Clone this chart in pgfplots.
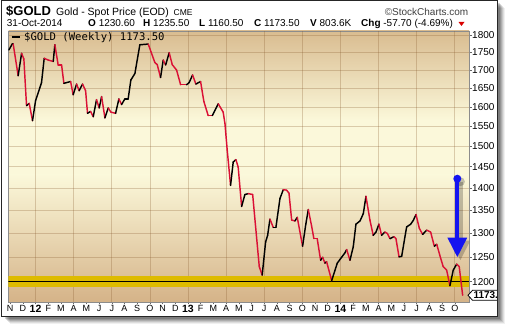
\documentclass[border=0pt]{standalone}
\usepackage{fontspec}
\setmainfont{Liberation Sans}
\newfontfamily\monofont{DejaVu Sans Mono}
\usepackage{pgfplots}
\pgfplotsset{compat=1.18}
\usepackage{pgfplotstable}
\definecolor{bgtop}{HTML}{D9BC90}
\definecolor{bgmid}{HTML}{FBF8DA}
\definecolor{bgbot}{HTML}{D5B388}
\definecolor{band}{HTML}{DEBB00}
\definecolor{linered}{HTML}{DA1035}
\definecolor{arrowblue}{HTML}{1414F0}
\pgfplotstableread{
m p u
-2.10 1757 1
-1.84 1774 1
-1.76 1774 0
-1.37 1684 1
-1.10 1747 0
-0.92 1731 0
-0.71 1603 1
-0.50 1609 0
-0.24 1564 1
0.00 1616 1
0.47 1665 1
0.68 1733 0
0.99 1728 0
1.39 1724 1
1.52 1772 0
1.78 1714 0
2.05 1714 0
2.23 1663 1
2.76 1668 0
2.96 1632 1
3.23 1661 0
3.43 1643 1
3.70 1661 0
3.94 1643 0
4.09 1583 1
4.33 1588 0
4.54 1574 1
4.80 1619 0
5.01 1597 1
5.20 1627 0
5.46 1571 1
5.72 1597 0
5.93 1586 0
6.30 1583 1
6.56 1621 0
6.77 1606 1
7.03 1621 1
7.29 1621 1
7.50 1672 1
7.82 1690 1
8.21 1772 1
8.87 1774 0
9.39 1721 0
9.58 1715 0
9.84 1679 1
10.05 1728 0
10.24 1714 1
10.52 1749 0
10.76 1715 0
11.10 1700 0
11.42 1659 0
11.89 1659 1
12.09 1665 1
12.36 1686 0
12.62 1661 1
12.99 1668 0
13.25 1614 0
13.59 1577 0
13.91 1577 1
14.38 1608 0
14.77 1586 0
14.91 1556 0
15.09 1489 0
15.35 1406 1
15.56 1461 1
15.77 1467 0
15.95 1449 0
16.22 1358 1
16.48 1385 1
16.74 1387 0
17.09 1385 0
17.61 1230 0
17.84 1213 1
18.11 1281 1
18.27 1295 1
18.45 1330 0
18.71 1312 1
18.92 1312 1
19.24 1376 1
19.50 1396 0
19.76 1395 0
19.95 1388 0
20.16 1328 0
20.42 1326 1
20.60 1334 0
21.02 1272 1
21.28 1320 1
21.47 1351 0
21.73 1315 0
21.91 1288 0
22.17 1288 0
22.44 1243 1
22.60 1249 0
22.78 1237 1
22.91 1240 0
23.31 1202 1
23.75 1237 1
24.09 1249 1
24.35 1258 1
24.49 1265 0
24.75 1243 1
25.01 1271 1
25.22 1319 1
25.54 1326 1
25.80 1342 1
26.01 1381 0
26.32 1328 0
26.58 1295 1
26.80 1302 1
27.03 1319 0
27.24 1295 1
27.50 1302 0
27.69 1299 0
27.90 1288 1
28.21 1292 0
28.37 1288 0
28.61 1250 1
28.82 1251 1
29.21 1313 1
29.53 1319 1
29.73 1327 1
29.95 1340 0
30.21 1310 0
30.47 1297 1
30.79 1306 0
31.10 1302 0
31.39 1272 1
31.58 1276 0
31.89 1247 0
32.09 1230 0
32.36 1223 0
32.62 1192 1
32.88 1223 1
33.15 1235 0
33.35 1230 0
33.62 1173.5 0
}\golddata

\begin{document}
\begin{tikzpicture}[x=1pt,y=1pt]
\useasboundingbox (0,0) rectangle (512,331);
\fill[white] (0,0) rectangle (512,331);
% drop shadow
\foreach \o/\a in {8/0.06,7/0.08,6/0.1,5/0.12,4/0.14,3/0.16}{
  \fill[black,opacity=\a] (1.5+\o,14.5-\o) rectangle (497+\o,330.5-\o);
}
\fill[white] (1.5,14.5) rectangle (497,330.5);
% plot-area background gradient
\fill[top color=bgtop, bottom color=bgmid] (8.5,210.5) rectangle (469,300);
\fill[bgmid] (8.5,155.5) rectangle (469,211);
\fill[top color=bgmid, bottom color=bgbot] (8.5,29) rectangle (469,156);

\begin{axis}[
  at={(8.5pt,29pt)}, anchor=south west,
  scale only axis, width=460.5pt, height=271pt,
  xmin=-2.13, xmax=34.12,
  ymode=log, ymin=1160.6, ymax=1812.7,
  axis line style={draw=black!45, line width=0.5pt},
  xtick={-2,-1,...,33},
  xticklabels={N,D,\textbf{\fontsize{10.5}{10.5}\selectfont 12},F,M,A,M,J,J,A,S,O,N,D,\textbf{\fontsize{10.5}{10.5}\selectfont 13},F,M,A,M,J,J,A,S,O,N,D,\textbf{\fontsize{10.5}{10.5}\selectfont 14},F,M,A,M,J,J,A,S,O},
  extra x ticks={0,3,...,33},
  extra x tick labels={},
  extra x tick style={grid=major, tick style={draw=none}},
  xtick pos=left,
  ytick={1200,1250,1300,1350,1400,1450,1500,1550,1600,1650,1700,1750,1800},
  yticklabels={1200,1250,1300,1350,1400,1450,1500,1550,1600,1650,1700,1750,1800},
  yminorticks=false,
  ytick pos=right, yticklabel pos=right,
  ymajorgrids=true,
  grid style={draw=brown!70!black, opacity=0.28, line width=0.6pt},
  tick align=outside, major tick length=2.5pt,
  tick style={draw=black!60, line width=0.5pt},
  xticklabel style={font=\fontsize{9}{9}\selectfont, anchor=north, inner sep=0pt, yshift=-1pt},
  yticklabel style={font=\fontsize{10}{10}\selectfont, anchor=west, inner sep=0pt, xshift=0.5pt},
  colormap={updown}{color=(linered) color=(black)},
  point meta min=0, point meta max=1,
]
\fill[band] (axis cs:-2.13,1189) rectangle (axis cs:34.12,1211);
\draw[black, line width=1.1pt] (axis cs:-2.13,1200) -- (axis cs:34.12,1200);
\addplot[mesh, shader=flat corner, point meta=\thisrow{u}, line width=1.45pt, line cap=round] table[x=m, y=p] {\golddata};
% annotation arrow with shadow
\fill[black,opacity=0.22] (axis cs:33.44,1414.5) circle[radius=4.5pt];
\draw[black,opacity=0.22, line width=4.5pt] (axis cs:33.44,1414.5) -- (axis cs:33.44,1284.5);
\fill[black,opacity=0.22] (axis cs:32.64,1283.7) -- (axis cs:34.22,1283.7) -- (axis cs:33.44,1243.4) -- cycle;
\fill[arrowblue] (axis cs:33.2,1421.5) circle[radius=4pt];
\draw[arrowblue, line width=4pt] (axis cs:33.2,1421.5) -- (axis cs:33.2,1288);
\fill[arrowblue] (axis cs:32.42,1290) -- (axis cs:33.98,1290) -- (axis cs:33.2,1249.5) -- cycle;
\end{axis}

% legend inside plot
\draw[black, line width=2pt] (11.7,294.3) -- (20,294.3);
\node[anchor=base west, inner sep=0pt] at (24,290.5) {\monofont\fontsize{10.6}{10.6}\selectfont \$GOLD (Weekly) 1173.50};

% last value tag
\begin{scope}
\clip (0,0) rectangle (497,331);
\filldraw[fill=white, draw=black, line width=0.8pt] (468,35.7) -- (472.5,40.7) -- (502,40.7) -- (502,30.7) -- (472.5,30.7) -- cycle;
\node[anchor=base west, inner sep=0pt] at (473.3,32) {\fontsize{10}{10}\selectfont\bfseries 1173.5};
\end{scope}

% frame
\draw[black!85, line width=1pt] (1.5,14.5) rectangle (497,330.5);

% header
\node[anchor=base west, inner sep=0pt] at (6,315) {\fontsize{13}{13}\selectfont\bfseries \$GOLD};
\node[anchor=base west, inner sep=0pt] at (56,315.7) {\fontsize{10.5}{10.5}\selectfont Gold - Spot Price (EOD)};
\node[anchor=base west, inner sep=0pt] at (173.5,315.7) {\fontsize{8.5}{8.5}\selectfont CME};
\node[anchor=base east, inner sep=0pt, text=black!75] at (468.5,315.7) {\fontsize{10}{10}\selectfont ©StockCharts.com};
\node[anchor=base west, inner sep=0pt] at (6.7,304.3) {\fontsize{10}{10}\selectfont 31-Oct-2014};
\node[anchor=base west, inner sep=0pt] at (88,304.3) {\fontsize{10}{10}\selectfont\textbf{O} 1230.60};
\node[anchor=base west, inner sep=0pt] at (143,304.3) {\fontsize{10}{10}\selectfont\textbf{H} 1235.50};
\node[anchor=base west, inner sep=0pt] at (199,304.3) {\fontsize{10}{10}\selectfont\textbf{L} 1160.50};
\node[anchor=base west, inner sep=0pt] at (254,304.3) {\fontsize{10}{10}\selectfont\textbf{C} 1173.50};
\node[anchor=base west, inner sep=0pt] at (310,304.3) {\fontsize{10}{10}\selectfont\textbf{V} 803.6K};
\node[anchor=base west, inner sep=0pt] at (361,304.3) {\fontsize{10}{10}\selectfont\textbf{Chg} -57.70 (-4.69\%)};
\fill[red!85!black] (458.5,309) -- (464.5,309) -- (461.5,305) -- cycle;
\end{tikzpicture}
\end{document}
